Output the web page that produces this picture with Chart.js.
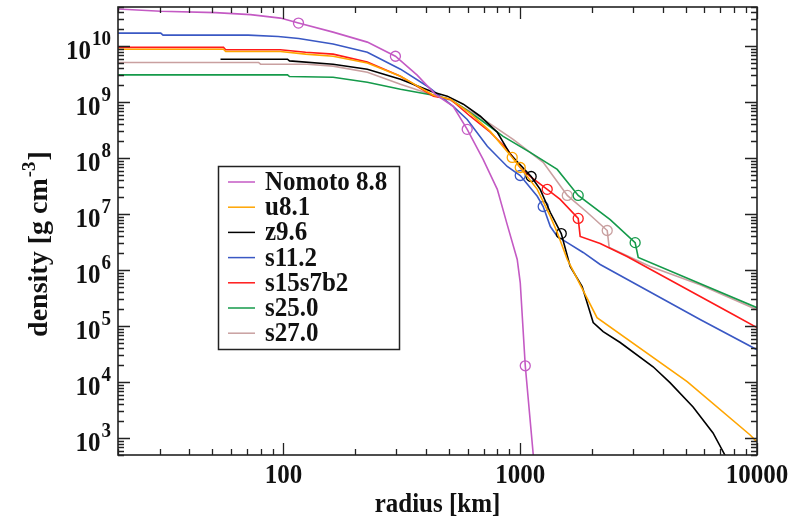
<!DOCTYPE html>
<html>
<head>
<meta charset="utf-8">
<script src="https://cdn.jsdelivr.net/npm/chart.js@4.4.1/dist/chart.umd.min.js"></script>
<style>
    html, body { margin: 0; padding: 0; background: #fff; }
</style>
</head>
<body>
<canvas id="grapik" width="810" height="526"></canvas>
<script>
// series names + colours
var names = ['Nomoto 8.8', 'u8.1', 'z9.6', 's11.2', 's15s7b2', 's25.0', 's27.0'];
var colors = ['#c45ac4', '#ffa500', '#000000', '#3a58c4', '#ff1a1a', '#149a4a', '#c9a0a0'];

// radius [km] / density [g cm^-3]
var nomotoR = [20, 30.3, 51.6, 72.6, 97, 115.7, 162, 226, 297, 367, 438, 521, 597, 697, 800, 881, 971, 1000, 1050, 1150];
var nomotoRho = [4.6e10, 4.2e10, 3.97e10, 3.66e10, 3.17e10, 2.58e10, 1.78e10, 1.18e10, 6.6e9, 3.03e9, 1.38e9, 8.4e8, 3.27e8, 9.5e7, 2.77e7, 6.5e6, 1.55e6, 6.0e5, 1.96e4, 270];
var nomotoMarks = [115.7, 297, 597, 1050];

var u81R = [20, 55.8, 57, 97, 124, 162, 226, 312, 430, 507, 615, 747, 925, 1000, 1180, 1340, 1433, 1580, 2110, 5070, 9330, 10000];
var u81Rho = [8.8e9, 8.8e9, 8.0e9, 8.0e9, 7.2e9, 6.6e9, 5.0e9, 2.9e9, 1.33e9, 1.13e9, 6.3e8, 3.0e8, 1.03e8, 6.8e7, 2.77e7, 9.1e6, 4.7e6, 1.55e6, 1.42e5, 1.02e4, 1150, 860];
var u81Marks = [925, 1000];

var z96R = [54.2, 104, 106, 162, 226, 312, 430, 492, 575, 678, 800, 908, 1112, 1214, 1340, 1490, 1625, 1826, 2033, 2240, 2643, 3640, 4290, 5370, 6520, 7320, 8080];
var z96Rho = [5.85e9, 5.85e9, 5.46e9, 4.76e9, 3.88e9, 2.57e9, 1.5e9, 1.28e9, 9.2e8, 5.6e8, 2.9e8, 1.17e8, 4.7e7, 2.77e7, 1.07e7, 4.5e6, 1.16e6, 5.1e5, 1.16e5, 8.0e4, 5.1e4, 1.88e4, 9.8e3, 3.6e3, 1240, 500, 220];
var z96Marks = [1112, 1490];

var s112R = [20, 30.3, 31, 71, 95, 116, 162, 226, 312, 405, 521, 597, 726, 881, 1000, 1180, 1250, 1340, 1433, 1580, 1844, 2176, 5750, 10000];
var s112Rho = [1.71e10, 1.71e10, 1.57e10, 1.57e10, 1.49e10, 1.37e10, 1.09e10, 7.8e9, 3.88e9, 1.92e9, 8.4e8, 4.9e8, 1.63e8, 7.1e7, 4.9e7, 2.08e7, 1.37e7, 6.0e6, 4.0e6, 3.1e6, 2.07e6, 1.26e6, 1.31e5, 3.8e4];
var s112Marks = [1000, 1250];

var s15R = [20, 55.8, 57, 97, 124, 162, 226, 312, 430, 507, 615, 747, 881, 1000, 1101, 1300, 1475, 1757, 1791, 2176, 2825, 7930, 10000];
var s15Rho = [9.5e9, 9.5e9, 8.6e9, 8.6e9, 7.8e9, 7.2e9, 5.2e9, 2.9e9, 1.28e9, 1.13e9, 5.6e8, 2.9e8, 1.44e8, 6.8e7, 4.7e7, 2.77e7, 1.83e7, 8.4e6, 4.0e6, 3.0e6, 1.75e6, 1.61e5, 9.4e4];
var s15Marks = [1300, 1757];

var s25R = [20, 104, 106, 162, 226, 312, 430, 507, 678, 847, 1101, 1433, 1757, 2398, 3057, 3150, 10000];
var s25Rho = [3.07e9, 3.07e9, 2.87e9, 2.79e9, 2.27e9, 1.7e9, 1.33e9, 1.13e9, 4.9e8, 2.45e8, 1.27e8, 6.3e7, 2.16e7, 8.0e6, 3.1e6, 1.68e6, 2.14e5];
var s25Marks = [1757, 3057];

var s27R = [20, 78.5, 80, 126, 162, 226, 312, 430, 507, 678, 933, 1250, 1580, 1920, 2330, 2375, 3540, 5750, 10000];
var s27Rho = [5.1e9, 5.1e9, 4.76e9, 4.76e9, 4.39e9, 3.43e9, 2.09e9, 1.33e9, 1.08e9, 5.4e8, 2.17e8, 8.4e7, 2.16e7, 1.07e7, 5.1e6, 2.53e6, 1.16e6, 5.5e5, 1.97e5];
var s27Marks = [1580, 2330];

// axis
var xRange = [20, 10000];
var yRange = [500, 5e10];
var xTickVals = [100, 1000, 10000];
var xTickLabels = ['100', '1000', '10000'];
var yTickExps = [3, 4, 5, 6, 7, 8, 9, 10];
var xTitle = 'radius [km]';
var yTitle = ['density [g cm', '-3', ']'];

var allR = [nomotoR, u81R, z96R, s112R, s15R, s25R, s27R];
var allRho = [nomotoRho, u81Rho, z96Rho, s112Rho, s15Rho, s25Rho, s27Rho];
var allMarks = [nomotoMarks, u81Marks, z96Marks, s112Marks, s15Marks, s25Marks, s27Marks];

var FONT = '"Liberation Serif", "Times New Roman", serif';

function stretchText(ctx, s, x, y, size, align, sy) {
    ctx.save();
    ctx.font = 'bold ' + size + 'px ' + FONT;
    ctx.textAlign = align;
    ctx.textBaseline = 'alphabetic';
    ctx.translate(x, y);
    ctx.scale(1, sy);
    ctx.fillText(s, 0, 0);
    ctx.restore();
}

var decor = {
    id: 'decor',
    afterDraw: function (chart) {
        var ctx = chart.ctx;
        var a = chart.chartArea;
        var xs = chart.scales.x, ys = chart.scales.y;
        ctx.save();
        ctx.strokeStyle = '#222';
        ctx.fillStyle = '#111';
        ctx.lineWidth = 1.3;

        // inward ticks, all 4 sides
        function xt(v, len) {
            var p = Math.round(xs.getPixelForValue(v)) + 0.5;
            ctx.beginPath();
            ctx.moveTo(p, a.bottom); ctx.lineTo(p, a.bottom - len);
            ctx.moveTo(p, a.top); ctx.lineTo(p, a.top + len);
            ctx.stroke();
        }
        function yt(v, len) {
            var p = Math.round(ys.getPixelForValue(v)) + 0.5;
            ctx.beginPath();
            ctx.moveTo(a.left, p); ctx.lineTo(a.left + len, p);
            ctx.moveTo(a.right, p); ctx.lineTo(a.right - len, p);
            ctx.stroke();
        }
        for (var d = 10; d <= 10000; d *= 10) {
            for (var m = 1; m <= 9; m++) {
                var v = m * d;
                if (v < xRange[0] || v > xRange[1]) continue;
                xt(v, m == 1 ? 12 : 6);
            }
        }
        for (var e = 2; e <= 10; e++) {
            for (var m = 1; m <= 9; m++) {
                var v = m * Math.pow(10, e);
                if (v < yRange[0] || v > yRange[1]) continue;
                yt(v, m == 1 ? 12 : 6);
            }
        }

        // frame
        ctx.lineWidth = 1.6;
        ctx.strokeRect(a.left, a.top, a.right - a.left, a.bottom - a.top);

        // x labels
        xTickVals.forEach(function (v, i) {
            stretchText(ctx, xTickLabels[i], xs.getPixelForValue(v), 483, 25, 'center', 1.1);
        });
        // y labels 10^n
        yTickExps.forEach(function (k) {
            var p = ys.getPixelForValue(Math.pow(10, k));
            ctx.font = 'bold 19px ' + FONT;
            var w = ctx.measureText(String(k)).width;
            stretchText(ctx, String(k), 111, p - 1, 19, 'right', 1.1);
            stretchText(ctx, '10', 111 - w - 1, p + 13, 25, 'right', 1.1);
        });

        // titles
        stretchText(ctx, xTitle, (a.left + a.right) / 2, 512, 25, 'center', 1.1);

        ctx.save();
        ctx.translate(47, 244);
        ctx.rotate(-Math.PI / 2);
        ctx.textBaseline = 'alphabetic';
        ctx.textAlign = 'left';
        ctx.font = 'bold 28px ' + FONT;
        var w1 = ctx.measureText(yTitle[0]).width;
        var w3 = ctx.measureText(yTitle[2]).width;
        ctx.font = 'bold 19px ' + FONT;
        var w2 = ctx.measureText(yTitle[1]).width;
        var x0 = -(w1 + w2 + w3 + 2) / 2;
        ctx.font = 'bold 28px ' + FONT;
        ctx.fillText(yTitle[0], x0, 0);
        ctx.font = 'bold 19px ' + FONT;
        ctx.fillText(yTitle[1], x0 + w1 + 1, -12);
        ctx.font = 'bold 28px ' + FONT;
        ctx.fillText(yTitle[2], x0 + w1 + w2 + 2, 0);
        ctx.restore();

        // legend box
        ctx.fillStyle = '#fff';
        ctx.fillRect(218, 166, 181, 183);
        ctx.lineWidth = 1.5;
        ctx.strokeStyle = '#222';
        ctx.strokeRect(218.5, 166.5, 181, 183);
        chart.data.datasets.forEach(function (ds, i) {
            var yy = 182 + i * 25.2;
            ctx.strokeStyle = ds.borderColor;
            ctx.lineWidth = 1.5;
            ctx.beginPath();
            ctx.moveTo(228, yy); ctx.lineTo(255, yy);
            ctx.stroke();
            ctx.fillStyle = '#111';
            stretchText(ctx, ds.label, 265, yy + 8, 25, 'left', 1.1);
        });
        ctx.restore();
    }
};

var datasets = names.map(function (nm, i) {
    return {
        label: nm,
        data: allR[i].map(function (r, j) { return { x: r, y: allRho[i][j] }; }),
        marks: allMarks[i],
        borderColor: colors[i],
        borderWidth: 1.6,
        pointRadius: function (c) { return c.dataset.marks.indexOf(c.raw.x) >= 0 ? 5 : 0; },
        pointBackgroundColor: 'rgba(0,0,0,0)',
        pointBorderColor: colors[i],
        pointBorderWidth: 1.3,
        fill: false,
        tension: 0
    };
});

var ctx = document.getElementById('grapik').getContext('2d');
var chart = new Chart(ctx, {
    type: 'line',
    data: { datasets: datasets },
    options: {
        responsive: false,
        animation: false,
        devicePixelRatio: 1,
        layout: { padding: { left: 118, right: 53, top: 7, bottom: 71 } },
        plugins: { legend: { display: false }, tooltip: { enabled: false } },
        scales: {
            x: { type: 'logarithmic', min: xRange[0], max: xRange[1], display: false },
            y: { type: 'logarithmic', min: yRange[0], max: yRange[1], display: false }
        }
    },
    plugins: [decor]
});
</script>
</body>
</html>
